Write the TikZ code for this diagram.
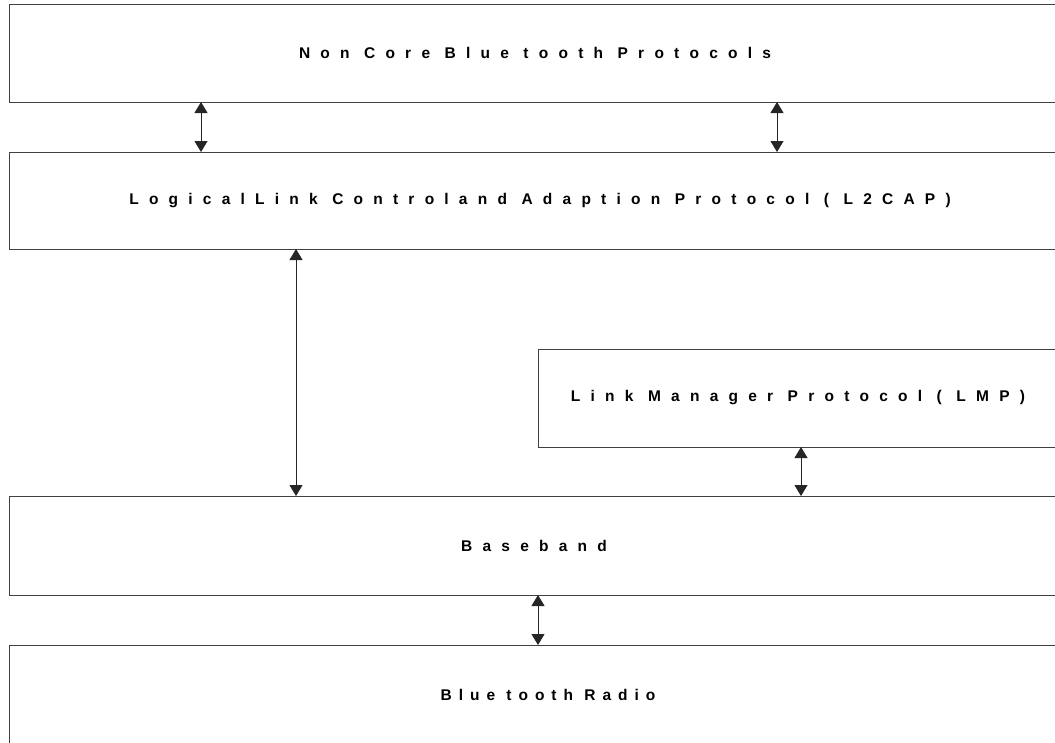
\documentclass[tikz,border=0pt]{standalone}
\usepackage{fontspec}
\setmainfont{Liberation Sans}
\newfontfamily\spacedfont{Liberation Sans}[LetterSpace=66]
\newfontfamily\radiofont{Liberation Sans}[LetterSpace=45]
\usetikzlibrary{arrows.meta,calc}
\tikzset{every picture/.style={line width=0.75pt}}
\tikzset{
  layer/.style={draw=black!75, line width=1pt, rectangle, anchor=north west,
    inner sep=0pt, outer sep=0pt,
    font=\spacedfont\bfseries\fontsize{15.5}{18}\selectfont},
  tightwords/.style={font=\radiofont\bfseries\fontsize{15.5}{18}\selectfont},
  biarrow/.style={draw=black!85, line width=0.9pt,
    {Triangle[length=11pt,width=13pt]}-{Triangle[length=11pt,width=13pt]}}
}

\begin{document}
\begin{tikzpicture}[x=1pt,y=-1pt]
\useasboundingbox (0,0) rectangle (1055,742);
\clip (0,0) rectangle (1055,742);

%Protocol layers
\node[layer, minimum width=1052, minimum height=98] (noncore) at (9,4) {Non Core Blue tooth Protocols};
\node[layer, minimum width=1062, minimum height=97] (ltcap) at (9,152) {LogicalLink Controland Adaption Protocol ( L2CAP)};
\node[layer, minimum width=520, minimum height=98] (lmp) at (538,349) {Link Manager Protocol ( LMP)};
\node[layer, minimum width=1050, minimum height=99] (baseband) at (9,496) {Baseband};
\node[layer, tightwords, minimum width=1078, minimum height=100] (radio) at (9,645) {Blue tooth Radio};

%Links between layers
\draw[biarrow] ($(noncore.south west)+(192,0)$) -- ($(ltcap.north west)+(192,0)$);
\draw[biarrow] ($(noncore.south west)+(768,0)$) -- ($(ltcap.north west)+(768,0)$);
\draw[biarrow] ($(ltcap.south west)+(287,0)$) -- ($(baseband.north west)+(287,0)$);
\draw[biarrow] ($(lmp.south west)+(263,0)$) -- ($(baseband.north west)+(792,0)$);
\draw[biarrow] ($(baseband.south west)+(529,0)$) -- ($(radio.north west)+(529,0)$);
\end{tikzpicture}
\end{document}
